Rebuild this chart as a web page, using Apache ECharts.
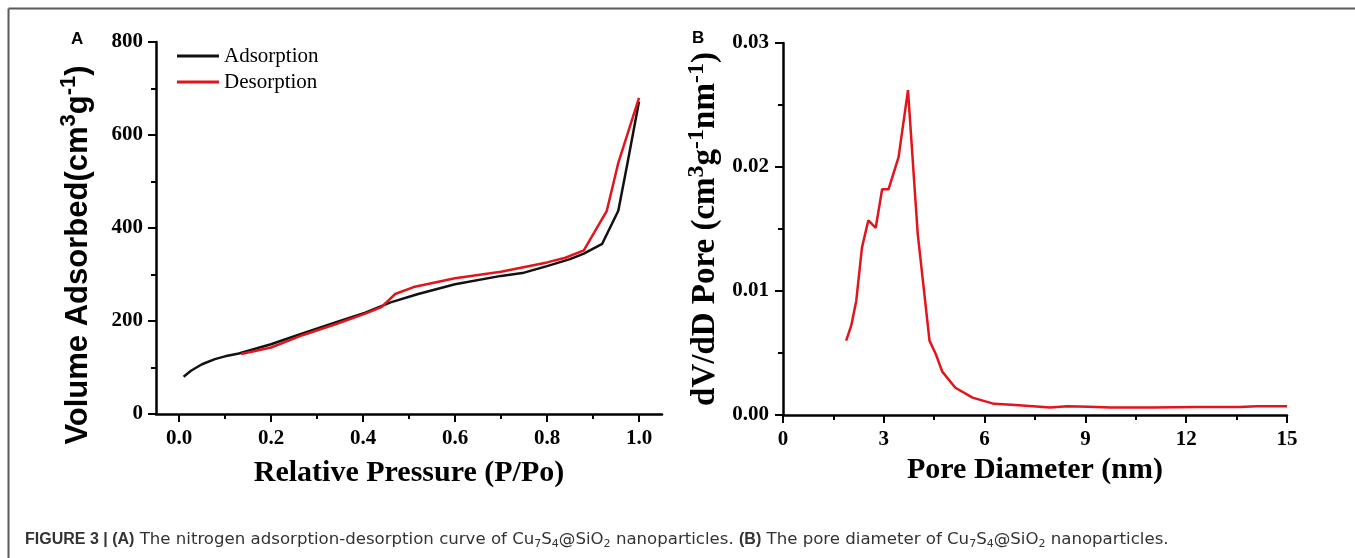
<!DOCTYPE html>
<html>
<head>
<meta charset="utf-8">
<script src="https://cdn.jsdelivr.net/npm/echarts@6/dist/echarts.min.js"></script>
<style>
  html, body { margin: 0; padding: 0; background: #fff; }
  #chart { width: 1355px; height: 558px; }
</style>
</head>
<body>
<div id="chart"></div>
<script>
// === DONNEES : isotherme (A) ===
const adsX = [0.01, 0.026, 0.05, 0.078, 0.10, 0.13, 0.20, 0.27, 0.34, 0.405, 0.46, 0.52, 0.60, 0.70, 0.75, 0.80, 0.85, 0.88, 0.92, 0.955, 0.975, 1.0];
const adsY = [80, 93, 107, 118, 124, 130, 150, 174, 197, 218, 240, 258, 279, 297, 304, 318, 333, 345, 366, 437, 540, 672];
const desX = [0.135, 0.20, 0.27, 0.34, 0.405, 0.44, 0.47, 0.51, 0.60, 0.70, 0.80, 0.84, 0.88, 0.93, 0.955, 1.0];
const desY = [129, 143, 170, 193, 216, 230, 258, 273, 292, 306, 326, 336, 352, 437, 540, 680];

// === DONNEES : distribution des pores (B) ===
const poreX = [1.88, 2.03, 2.18, 2.35, 2.54, 2.76, 2.95, 3.14, 3.44, 3.72, 4.01, 4.23, 4.36, 4.55, 4.74, 5.13, 5.64, 6.28, 6.92, 7.44, 7.95, 8.46, 9.1, 9.74, 10.5, 11.0, 12.3, 13.6, 14.1, 15.0];
const poreY = [0.0060, 0.0072, 0.0092, 0.0135, 0.0157, 0.0151, 0.0182, 0.0182, 0.0208, 0.0262, 0.0146, 0.0092, 0.0060, 0.0049, 0.0035, 0.0022, 0.0014, 0.0009, 0.0008, 0.0007, 0.0006, 0.0007, 0.00067, 0.0006, 0.0006, 0.0006, 0.00065, 0.00065, 0.0007, 0.0007];

// Graduations de l'axe X du graphe A
const xTicksA = [0, 0.2, 0.4, 0.6, 0.8, 1.0];
const xMinorA = [0.1, 0.3, 0.5, 0.7, 0.9];

const SERIF = "'Liberation Serif', 'Times New Roman', serif";
const SANS = "'Liberation Sans', Arial, sans-serif";
const RED = "#e3141b";

function paires(xs, ys) {
    return xs.map((x, i) => [x, ys[i]]);
}

const axeLigne = { show: true, onZero: false, lineStyle: { color: "#000", width: 2.5 } };
const labelStyle = { color: "#000", fontFamily: SERIF, fontWeight: "bold", fontSize: 21 };
const richA = {
    m: { fontSize: 31, lineHeight: 40, fontWeight: "bold", color: "#000" },
    sup: { fontSize: 22, lineHeight: 26, verticalAlign: "top", fontWeight: "bold", color: "#000" }
};
const richB = {
    m: { fontSize: 33, lineHeight: 40, fontWeight: "bold", color: "#000" },
    sup: { fontSize: 24, lineHeight: 26, verticalAlign: "top", fontWeight: "bold", color: "#000" }
};

const chart = echarts.init(document.getElementById("chart"));
const option = {
    animation: false,
    backgroundColor: "#fff",
    grid: [
        { left: 156, top: 42, width: 506, height: 372 },
        { left: 783, top: 43, width: 504, height: 372 }
    ],
    legend: {
        orient: "vertical",
        left: 177,
        top: 44,
        padding: 0,
        icon: "rect",
        itemWidth: 42,
        itemHeight: 3,
        itemGap: 2,
        textStyle: { fontFamily: SERIF, fontSize: 21, lineHeight: 24, color: "#000" },
        data: ["Adsorption", "Desorption"]
    },
    xAxis: [
        {
            gridIndex: 0, type: "value", position: "bottom",
            min: -0.05, max: 1.05,
            axisLine: axeLigne,
            axisTick: { show: true, length: 8, lineStyle: { width: 2, color: "#000" }, customValues: xTicksA },
            axisLabel: Object.assign({ margin: 14, customValues: xTicksA, formatter: v => v.toFixed(1) }, labelStyle),
            splitLine: { show: false },
            name: "Relative Pressure (P/Po)", nameLocation: "middle", nameGap: 44,
            nameTextStyle: { fontFamily: SERIF, fontWeight: "bold", fontSize: 30, color: "#000" }
        },
        {
            gridIndex: 0, type: "value", position: "bottom",
            min: -0.05, max: 1.05,
            axisLine: { show: false, onZero: false },
            axisTick: { show: true, length: 5, lineStyle: { width: 2, color: "#000" }, customValues: xMinorA },
            axisLabel: { show: false },
            splitLine: { show: false }
        },
        {
            gridIndex: 1, type: "value", position: "bottom",
            min: 0, max: 15, interval: 3,
            axisLine: axeLigne,
            axisTick: { show: true, length: 8, lineStyle: { width: 2, color: "#000" } },
            minorTick: { show: true, splitNumber: 2, length: 5, lineStyle: { width: 2, color: "#000" } },
            axisLabel: Object.assign({ margin: 14 }, labelStyle),
            splitLine: { show: false },
            name: "Pore Diameter (nm)", nameLocation: "middle", nameGap: 39,
            nameTextStyle: { fontFamily: SERIF, fontWeight: "bold", fontSize: 30, color: "#000" }
        }
    ],
    yAxis: [
        {
            gridIndex: 0, type: "value", min: 0, max: 800, interval: 200,
            axisLine: axeLigne,
            axisTick: { show: true, length: 8, lineStyle: { width: 2, color: "#000" } },
            minorTick: { show: true, splitNumber: 2, length: 5, lineStyle: { width: 2, color: "#000" } },
            axisLabel: Object.assign({ margin: 13 }, labelStyle),
            splitLine: { show: false },
            name: "{m|Volume Adsorbed(cm}{sup|3}{m|g}{sup|-1}{m|)}",
            nameLocation: "middle", nameRotate: 90, nameGap: 58, nameMoveOverlap: false,
            nameTextStyle: { fontFamily: SANS, padding: [0, 54, 0, 0], rich: richA }
        },
        {
            gridIndex: 1, type: "value", min: 0, max: 0.03, interval: 0.01,
            axisLine: axeLigne,
            axisTick: { show: true, length: 8, lineStyle: { width: 2, color: "#000" } },
            minorTick: { show: true, splitNumber: 2, length: 5, lineStyle: { width: 2, color: "#000" } },
            axisLabel: Object.assign({ margin: 14, formatter: v => v.toFixed(2) }, labelStyle),
            splitLine: { show: false },
            name: "{m|dV/dD Pore (cm}{sup|3}{m|g}{sup|-1}{m|nm}{sup|-1}{m|)}",
            nameLocation: "middle", nameRotate: 90, nameGap: 58, nameMoveOverlap: false,
            nameTextStyle: { fontFamily: SERIF, rich: richB }
        }
    ],
    series: [
        {
            name: "Adsorption", type: "line", xAxisIndex: 0, yAxisIndex: 0,
            data: paires(adsX, adsY), symbol: "none", color: "#111",
            lineStyle: { color: "#111", width: 2.5 }, z: 3
        },
        {
            name: "Desorption", type: "line", xAxisIndex: 0, yAxisIndex: 0,
            data: paires(desX, desY), symbol: "none", color: RED,
            lineStyle: { color: RED, width: 2.5 }, z: 4
        },
        {
            name: "Pore", type: "line", xAxisIndex: 2, yAxisIndex: 1,
            data: paires(poreX, poreY), symbol: "none", color: RED,
            lineStyle: { color: RED, width: 2.5 }
        }
    ],
    graphic: [
        // cadre de la figure
        { type: "line", shape: { x1: 8.5, y1: 8.5, x2: 1355, y2: 8.5 }, style: { stroke: "#5a5a5a", lineWidth: 2 } },
        { type: "line", shape: { x1: 8.5, y1: 8.5, x2: 8.5, y2: 558 }, style: { stroke: "#5a5a5a", lineWidth: 2 } },
        // lettres des panneaux
        { type: "text", left: 71, top: 31, style: { text: "A", font: "bold 17px " + SANS, fill: "#000" } },
        { type: "text", left: 692, top: 30, style: { text: "B", font: "bold 17px " + SANS, fill: "#000" } },
        // legende de la figure
        {
            type: "text", left: 25, top: 531,
            style: {
                text: "{b|FIGURE 3 | (A)}{n| The nitrogen adsorption-desorption curve of Cu}{s|7}{n|S}{s|4}{n|@SiO}{s|2}{n| nanoparticles. }{b|(B)}{n| The pore diameter of Cu}{s|7}{n|S}{s|4}{n|@SiO}{s|2}{n| nanoparticles.}",
                fill: "#333",
                rich: {
                    b: { fontFamily: SANS, fontWeight: "bold", fontSize: 16, lineHeight: 20, fill: "#333" },
                    n: { fontFamily: "'DejaVu Sans', sans-serif", fontSize: 16.6, lineHeight: 20, fill: "#333" },
                    s: { fontFamily: "'DejaVu Sans', sans-serif", fontSize: 11, lineHeight: 12, verticalAlign: "bottom", fill: "#333" }
                }
            }
        }
    ]
};
chart.setOption(option);
window.addEventListener("resize", () => chart.resize());
</script>
</body>
</html>
